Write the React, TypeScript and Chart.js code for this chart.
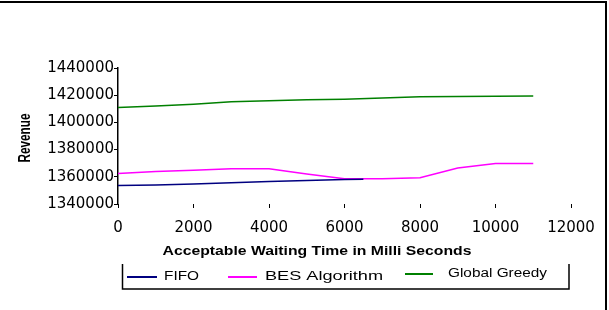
import React, { useEffect, useRef } from "react";
import { Chart, registerables } from "chart.js";

Chart.register(...registerables);

// ---- data ----
const waitTimes = [0, 1000, 2000, 3000, 4000, 5000, 6000, 7000, 8000, 9000, 10000, 11000];
const fifoWaitTimes = [0, 1000, 2000, 3000, 4000, 5000, 6000, 6500];
const fifoRevenue = [1353600, 1354000, 1354700, 1355700, 1356600, 1357300, 1358100, 1358200];
const besRevenue = [1362400, 1363900, 1364800, 1365900, 1366000, 1362000, 1358500, 1358500, 1359300, 1366500, 1369700, 1369700];
const greedyRevenue = [1411000, 1412000, 1413400, 1415200, 1416000, 1416600, 1417000, 1418000, 1418800, 1419000, 1419200, 1419400];
const xTickValues = [0, 2000, 4000, 6000, 8000, 10000, 12000];
const yTickValues = [1340000, 1360000, 1380000, 1400000, 1420000, 1440000];
const seriesNames = ["FIFO", "BES Algorithm", "Global Greedy"];
const seriesColors = ["#000080", "#ff00ff", "#008000"];
const xTitle = "Acceptable Waiting Time in Milli Seconds";
const yTitle = "Revenue";

function drawStretched(
  ctx: CanvasRenderingContext2D,
  text: string,
  x: number,
  y: number,
  font: string,
  width: number,
  align: CanvasTextAlign,
  rotated = false
) {
  ctx.save();
  ctx.font = font;
  const m = ctx.measureText(text).width;
  const s = width / m;
  ctx.translate(x, y);
  if (rotated) {
    ctx.scale(1.35, 1);
    ctx.rotate(-Math.PI / 2);
  }
  ctx.scale(s, 1);
  ctx.textAlign = align;
  ctx.textBaseline = "middle";
  ctx.fillStyle = "#000";
  ctx.fillText(text, 0, 0);
  ctx.restore();
}

const overlayPlugin = {
  id: "overlay",
  afterDraw(chart: any) {
    const ctx: CanvasRenderingContext2D = chart.ctx;
    ctx.save();
    // figure frame
    ctx.strokeStyle = "#000";
    ctx.lineWidth = 2;
    ctx.beginPath();
    ctx.moveTo(0, 2);
    ctx.lineTo(606, 2);
    ctx.lineTo(606, 310);
    ctx.stroke();

    // axis titles
    drawStretched(ctx, xTitle, 317, 251, 'bold 13px "Liberation Sans", Arial, sans-serif', 309, "center");
    drawStretched(ctx, yTitle, 26, 138, 'bold 12px "Liberation Sans", Arial, sans-serif', 49, "center", true);

    // legend box (open at top)
    ctx.strokeStyle = "#000";
    ctx.lineWidth = 1.5;
    ctx.beginPath();
    ctx.moveTo(122.5, 264);
    ctx.lineTo(122.5, 289);
    ctx.lineTo(569, 289);
    ctx.lineTo(569, 264);
    ctx.stroke();

    const items = [
      { x0: 127, x1: 157, y: 277, tx: 164, tw: 35 },
      { x0: 228, x1: 257, y: 277, tx: 265, tw: 118 },
      { x0: 405, x1: 433, y: 274, tx: 448, tw: 99 },
    ];
    items.forEach((it, i) => {
      ctx.strokeStyle = seriesColors[i];
      ctx.lineWidth = 2;
      ctx.beginPath();
      ctx.moveTo(it.x0, it.y);
      ctx.lineTo(it.x1, it.y);
      ctx.stroke();
      drawStretched(ctx, seriesNames[i], it.tx, it.y, '12px "Liberation Sans", Arial, sans-serif', it.tw, "left");
    });
    ctx.restore();
  },
};

export default function App() {
  const ref = useRef<HTMLCanvasElement | null>(null);

  useEffect(() => {
    if (!ref.current) return;
    const datasets = [
      { xs: fifoWaitTimes, ys: fifoRevenue },
      { xs: waitTimes, ys: besRevenue },
      { xs: waitTimes, ys: greedyRevenue },
    ].map((s, i) => ({
      label: seriesNames[i],
      data: s.xs.map((x, j) => ({ x, y: s.ys[j] })),
      borderColor: seriesColors[i],
      backgroundColor: seriesColors[i],
      borderWidth: 1.5,
      pointRadius: 0,
      tension: 0,
      fill: false,
    }));

    const chart = new Chart(ref.current, {
      type: "line",
      data: { datasets },
      options: {
        animation: false,
        responsive: false,
        devicePixelRatio: 1,
        layout: { padding: { left: 0, top: 68, right: 38, bottom: 0 } },
        plugins: {
          legend: { display: false },
          tooltip: { enabled: false },
        },
        scales: {
          x: {
            type: "linear",
            min: 0,
            max: 12000,
            afterBuildTicks: (s: any) => {
              s.ticks = xTickValues.map((v) => ({ value: v }));
            },
            afterFit: (s: any) => {
              s.height = 106;
            },
            ticks: {
              autoSkip: false,
              maxRotation: 0,
              padding: 11,
              color: "#000",
              font: { family: '"DejaVu Sans", sans-serif', size: 15 },
              callback: (v: any) => String(v),
            },
            grid: { drawOnChartArea: false, drawTicks: true, tickLength: 4, color: "#000" },
            border: { display: false },
          },
          y: {
            type: "linear",
            min: 1340000,
            max: 1440000,
            afterBuildTicks: (s: any) => {
              s.ticks = yTickValues.map((v) => ({ value: v }));
            },
            afterFit: (s: any) => {
              s.width = 118;
            },
            ticks: {
              autoSkip: false,
              padding: 0,
              color: "#000",
              font: { family: '"DejaVu Sans", sans-serif', size: 15 },
              callback: (v: any) => String(v),
            },
            grid: { drawOnChartArea: false, drawTicks: true, tickLength: 4, color: "#000" },
            border: { display: true, color: "#000", width: 1.5 },
          },
        },
      },
      plugins: [overlayPlugin],
    });
    return () => chart.destroy();
  }, []);

  return (
    <div style={{ position: "fixed", left: 0, top: 0, width: 609, height: 310, background: "#fff" }}>
      <canvas ref={ref} width={609} height={310} style={{ display: "block" }} />
    </div>
  );
}
